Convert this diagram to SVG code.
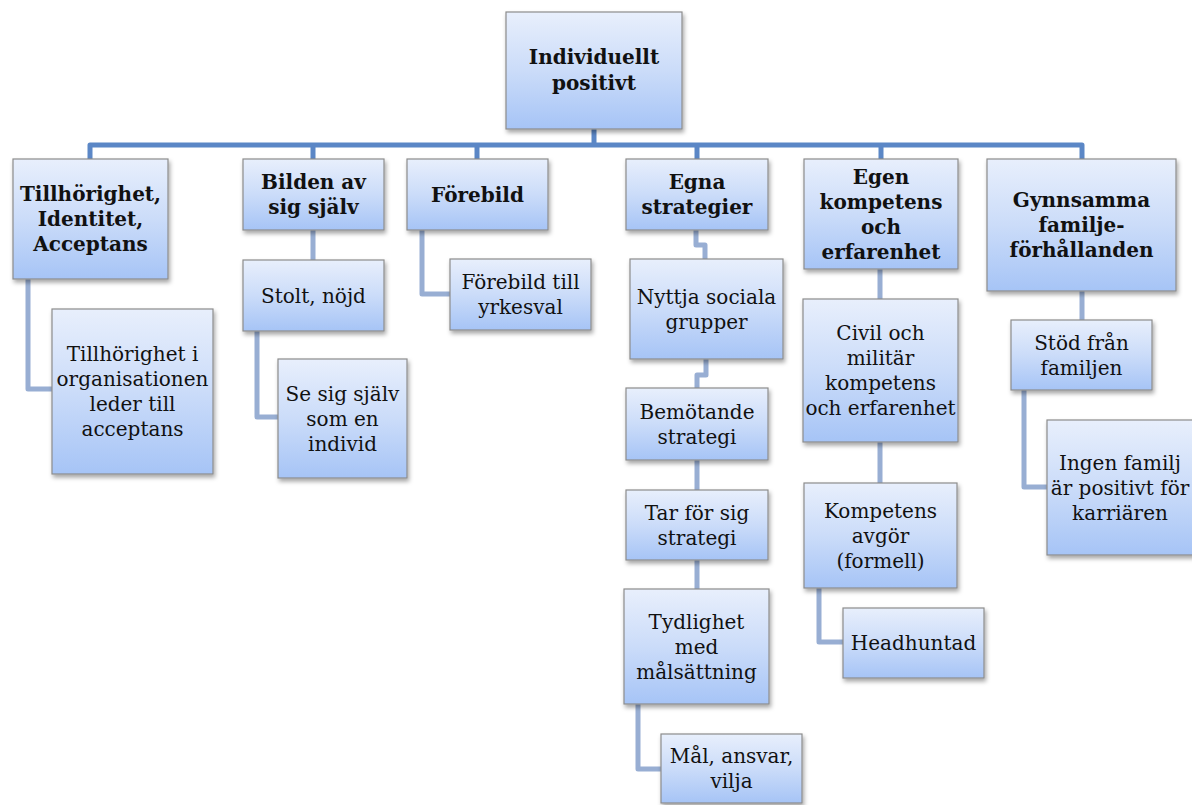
<svg xmlns="http://www.w3.org/2000/svg" width="1192" height="805" viewBox="0 0 1192 805">
  <style>
    .box { fill: url(#boxFill); stroke: #8c8c8c; stroke-width: 1.2; filter: url(#shadow); }
    .t { font-family: "DejaVu Serif", "Liberation Serif", serif; font-size: 20px; fill: #111; text-anchor: middle; }
    .b { font-weight: bold; }
    .bus { fill: none; stroke: #5b87c6; stroke-width: 5; stroke-linejoin: round; }
    .sub { fill: none; stroke: #98aed3; stroke-width: 5; stroke-linejoin: round; }
  </style>
  <defs>
    <linearGradient id="boxFill" x1="0" y1="0" x2="0" y2="1">
      <stop offset="0" stop-color="#e8effc"/>
      <stop offset="0.5" stop-color="#cbdcf9"/>
      <stop offset="1" stop-color="#a6c4f6"/>
    </linearGradient>
    <filter id="shadow" x="-10%" y="-10%" width="125%" height="130%">
      <feDropShadow dx="1.5" dy="3" stdDeviation="2" flood-color="#000" flood-opacity="0.35"/>
    </filter>
  </defs>
  <rect width="1192" height="805" fill="#fff"/>

  <!-- connectors -->
  <g id="connectors">
    <path class="bus" d="M594,129 V145 M90,159 V145 H1082 V159 M313,145 V159 M477,145 V159 M697,145 V159 M881,145 V159"/>
    <path class="sub" d="M28,279 V389 H52"/>
    <path class="sub" d="M313,230 V260 M257,331 V417 H278"/>
    <path class="sub" d="M422,230 V294 H450"/>
    <path class="sub" d="M696,230 V245 H705 V259 M706,359 V375 H697 V388 M697,460 V490 M697,560 V589 M638,704 V769 H661"/>
    <path class="sub" d="M880,269 V299 M880,442 V483 M819,588 V642 H843"/>
    <path class="sub" d="M1082,291 V320 M1024,390 V487 H1047"/>
  </g>

  <g id="root">
    <rect class="box" x="506" y="12" width="176" height="117"/>
    <text class="t b" x="594" y="64">Individuellt</text>
    <text class="t b" x="594" y="90">positivt</text>
  </g>

  <g id="tillhorighet">
    <rect class="box" x="13" y="159" width="155" height="120"/>
    <text class="t b" x="90.5" y="201">Tillhörighet,</text>
    <text class="t b" x="90.5" y="226">Identitet,</text>
    <text class="t b" x="90.5" y="251">Acceptans</text>
  </g>
  <g id="tillhorighet-org">
    <rect class="box" x="52" y="309" width="161" height="165"/>
    <text class="t" x="132.5" y="361">Tillhörighet i</text>
    <text class="t" x="132.5" y="386">organisationen</text>
    <text class="t" x="132.5" y="411">leder till</text>
    <text class="t" x="132.5" y="436">acceptans</text>
  </g>

  <g id="bilden">
    <rect class="box" x="243" y="159" width="141" height="71"/>
    <text class="t b" x="313.5" y="189">Bilden av</text>
    <text class="t b" x="313.5" y="214">sig själv</text>
  </g>
  <g id="stolt">
    <rect class="box" x="243" y="260" width="141" height="71"/>
    <text class="t" x="313.5" y="302.5">Stolt, nöjd</text>
  </g>
  <g id="se-sig">
    <rect class="box" x="278" y="359" width="129" height="119"/>
    <text class="t" x="342.5" y="400.5">Se sig själv</text>
    <text class="t" x="342.5" y="425.5">som en</text>
    <text class="t" x="342.5" y="450.5">individ</text>
  </g>

  <g id="forebild">
    <rect class="box" x="407" y="159" width="141" height="71"/>
    <text class="t b" x="477.5" y="201.5">Förebild</text>
  </g>
  <g id="forebild-yrke">
    <rect class="box" x="450" y="259" width="141" height="71"/>
    <text class="t" x="520.5" y="289">Förebild till</text>
    <text class="t" x="520.5" y="314">yrkesval</text>
  </g>

  <g id="egna">
    <rect class="box" x="626" y="159" width="142" height="71"/>
    <text class="t b" x="697" y="189">Egna</text>
    <text class="t b" x="697" y="214">strategier</text>
  </g>
  <g id="nyttja">
    <rect class="box" x="630" y="259" width="153" height="100"/>
    <text class="t" x="706.5" y="303.5">Nyttja sociala</text>
    <text class="t" x="706.5" y="328.5">grupper</text>
  </g>
  <g id="bemotande">
    <rect class="box" x="626" y="388" width="142" height="72"/>
    <text class="t" x="697" y="418.5">Bemötande</text>
    <text class="t" x="697" y="443.5">strategi</text>
  </g>
  <g id="tar">
    <rect class="box" x="626" y="490" width="142" height="70"/>
    <text class="t" x="697" y="519.5">Tar för sig</text>
    <text class="t" x="697" y="544.5">strategi</text>
  </g>
  <g id="tydlighet">
    <rect class="box" x="624" y="589" width="145" height="115"/>
    <text class="t" x="696.5" y="628.5">Tydlighet</text>
    <text class="t" x="696.5" y="653.5">med</text>
    <text class="t" x="696.5" y="678.5">målsättning</text>
  </g>
  <g id="mal">
    <rect class="box" x="661" y="734" width="141" height="69"/>
    <text class="t" x="731.5" y="763">Mål, ansvar,</text>
    <text class="t" x="731.5" y="788">vilja</text>
  </g>

  <g id="egen">
    <rect class="box" x="804" y="159" width="154" height="110"/>
    <text class="t b" x="881" y="183.5">Egen</text>
    <text class="t b" x="881" y="208.5">kompetens</text>
    <text class="t b" x="881" y="233.5">och</text>
    <text class="t b" x="881" y="258.5">erfarenhet</text>
  </g>
  <g id="civil">
    <rect class="box" x="803" y="299" width="155" height="143"/>
    <text class="t" x="880.5" y="340">Civil och</text>
    <text class="t" x="880.5" y="365">militär</text>
    <text class="t" x="880.5" y="390">kompetens</text>
    <text class="t" x="880.5" y="415">och erfarenhet</text>
  </g>
  <g id="kompetens-avgor">
    <rect class="box" x="804" y="483" width="153" height="105"/>
    <text class="t" x="880.5" y="517.5">Kompetens</text>
    <text class="t" x="880.5" y="542.5">avgör</text>
    <text class="t" x="880.5" y="567.5">(formell)</text>
  </g>
  <g id="headhuntad">
    <rect class="box" x="843" y="608" width="141" height="70"/>
    <text class="t" x="913.5" y="650">Headhuntad</text>
  </g>

  <g id="gynnsamma">
    <rect class="box" x="987" y="159" width="189" height="132"/>
    <text class="t b" x="1081.5" y="207">Gynnsamma</text>
    <text class="t b" x="1081.5" y="232">familje-</text>
    <text class="t b" x="1081.5" y="257">förhållanden</text>
  </g>
  <g id="stod">
    <rect class="box" x="1011" y="320" width="141" height="70"/>
    <text class="t" x="1081.5" y="349.5">Stöd från</text>
    <text class="t" x="1081.5" y="374.5">familjen</text>
  </g>
  <g id="ingen-familj">
    <rect class="box" x="1047" y="420" width="147" height="135"/>
    <text class="t" x="1120" y="469.5">Ingen familj</text>
    <text class="t" x="1120" y="494.5">är positivt för</text>
    <text class="t" x="1120" y="519.5">karriären</text>
  </g>
</svg>
